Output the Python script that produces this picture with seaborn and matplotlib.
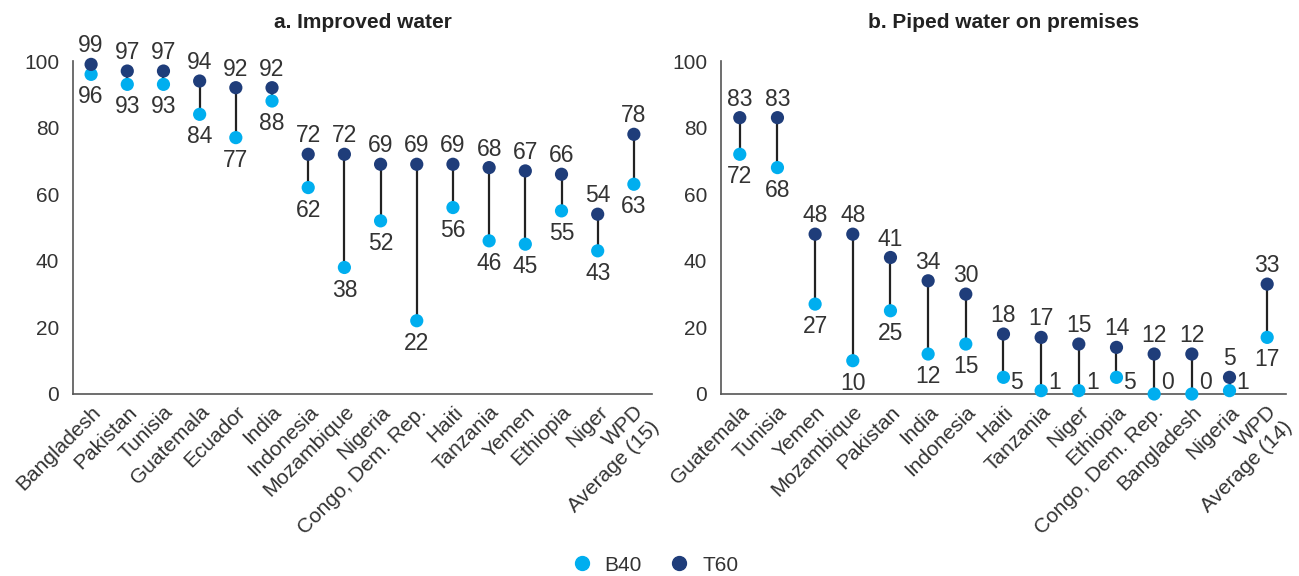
import pandas as pd
import seaborn as sns
import matplotlib.pyplot as plt

# values
countries_a = ['Bangladesh', 'Pakistan', 'Tunisia', 'Guatemala', 'Ecuador', 'India',
               'Indonesia', 'Mozambique', 'Nigeria', 'Congo, Dem. Rep.', 'Haiti',
               'Tanzania', 'Yemen', 'Ethiopia', 'Niger', 'WPD\nAverage (15)']
b40_a = [96, 93, 93, 84, 77, 88, 62, 38, 52, 22, 56, 46, 45, 55, 43, 63]
t60_a = [99, 97, 97, 94, 92, 92, 72, 72, 69, 69, 69, 68, 67, 66, 54, 78]

countries_b = ['Guatemala', 'Tunisia', 'Yemen', 'Mozambique', 'Pakistan', 'India',
               'Indonesia', 'Haiti', 'Tanzania', 'Niger', 'Ethiopia', 'Congo, Dem. Rep.',
               'Bangladesh', 'Nigeria', 'WPD\nAverage (14)']
b40_b = [72, 68, 27, 10, 25, 12, 15, 5, 1, 1, 5, 0, 0, 1, 17]
t60_b = [83, 83, 48, 48, 41, 34, 30, 18, 17, 15, 14, 12, 12, 5, 33]

titles = ['a. Improved water', 'b. Piped water on premises']
yticks = [0, 20, 40, 60, 80, 100]

C_B40 = '#00aeef'
C_T60 = '#1f3d7a'
TXT = '#333333'

sns.set_style('white')
plt.rcParams['font.family'] = ['Liberation Sans', 'DejaVu Sans']
plt.rcParams['text.color'] = TXT
plt.rcParams['xtick.color'] = '#555555'
plt.rcParams['ytick.color'] = '#555555'
plt.rcParams['xtick.labelcolor'] = TXT
plt.rcParams['ytick.labelcolor'] = TXT

fig = plt.figure(figsize=(12.99, 5.76), dpi=100)
ax1 = fig.add_axes([0.0562, 0.316, 0.4457, 0.578])
ax2 = fig.add_axes([0.555, 0.316, 0.435, 0.578])

FS_VAL = 16.5
FS_TICK = 15


def panel(ax, countries, b40, t60, title):
    df = pd.DataFrame({'country': countries * 2,
                       'value': b40 + t60,
                       'group': ['B40'] * len(countries) + ['T60'] * len(countries)})
    n = len(countries)
    # connecting lines
    ax.vlines(range(n), b40, t60, color='#222222', lw=1.6, zorder=1)
    sns.stripplot(data=df, x='country', y='value', hue='group', order=countries,
                  palette={'B40': C_B40, 'T60': C_T60}, jitter=False, dodge=False,
                  size=9.5, linewidth=0, ax=ax, zorder=3, clip_on=False)
    for i, (lo, hi) in enumerate(zip(b40, t60)):
        ax.annotate(str(hi), (i, hi), xytext=(0, 5), textcoords='offset points',
                    ha='center', va='bottom', fontsize=FS_VAL)
        if lo <= 5:
            # small values: label beside the dot
            ax.annotate(str(lo), (i, 3.5), xytext=(5, 0), textcoords='offset points',
                        ha='left', va='center', fontsize=FS_VAL)
        else:
            ax.annotate(str(lo), (i, lo), xytext=(0, -8), textcoords='offset points',
                        ha='center', va='top', fontsize=FS_VAL)
    ax.set_xlim(-0.5, n - 0.5)
    ax.set_ylim(0, 100)
    ax.set_yticks(yticks)
    ax.set_xticks([i - 0.5 for i in range(n + 1)], minor=False)
    ax.set_xticklabels([])
    ax.set_xticks(range(n), minor=True)
    ax.set_xticklabels(countries, minor=True, rotation=45, ha='right',
                       rotation_mode='anchor', fontsize=FS_TICK)
    ax.tick_params(axis='x', which='minor', length=0, pad=6)
    ax.tick_params(axis='x', which='major', length=6, width=1, direction='out')
    ax.tick_params(axis='y', length=6, width=1, direction='out', labelsize=FS_TICK, pad=4)
    for s in ['top', 'right']:
        ax.spines[s].set_visible(False)
    for s in ['left', 'bottom']:
        ax.spines[s].set_color('#555555')
        ax.spines[s].set_linewidth(1.2)
    ax.set_xlabel('')
    ax.set_ylabel('')
    ax.set_title(title, fontsize=15, fontweight='bold', pad=24, color='#222222')
    ax.get_legend().remove()


panel(ax1, countries_a, b40_a, t60_a, titles[0])
panel(ax2, countries_b, b40_b, t60_b, titles[1])

handles = [plt.Line2D([], [], marker='o', ls='', color=C_B40, markersize=10),
           plt.Line2D([], [], marker='o', ls='', color=C_T60, markersize=10)]
fig.legend(handles, ['B40', 'T60'], loc='lower center', bbox_to_anchor=(0.5, -0.03),
           ncol=2, frameon=False, fontsize=15, handletextpad=0.1, columnspacing=0.8)

fig.savefig('out.png', dpi=100)
